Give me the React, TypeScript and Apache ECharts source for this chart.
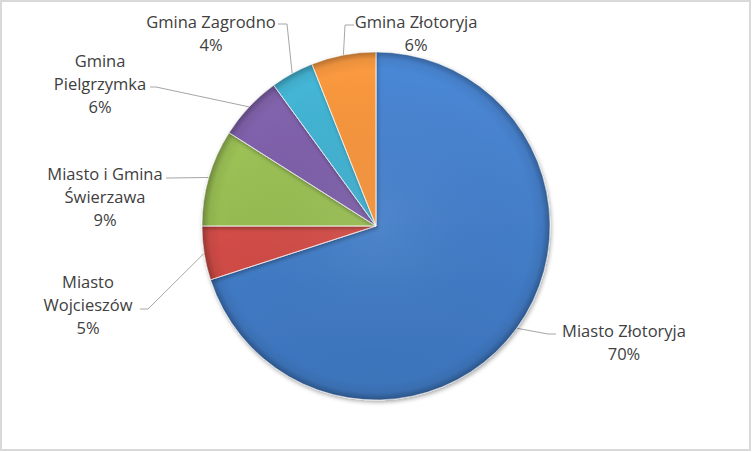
import React, { useEffect, useRef } from 'react';
import * as echarts from 'echarts';

// shares of each commune (percent)
const names = [
  'Miasto Złotoryja',
  'Miasto Wojcieszów',
  'Miasto i Gmina Świerzawa',
  'Gmina Pielgrzymka',
  'Gmina Zagrodno',
  'Gmina Złotoryja',
];
const labelNames = [
  'Miasto Złotoryja',
  'Miasto\nWojcieszów',
  'Miasto i Gmina\nŚwierzawa',
  'Gmina\nPielgrzymka',
  'Gmina Zagrodno',
  'Gmina Złotoryja',
];
const values = [70, 5, 9, 6, 4, 6];
const topColors = ['#4b88d6', '#e0554f', '#a2c85a', '#8566b0', '#45b8d8', '#fa9a40'];
const bottomColors = ['#3c73ba', '#c4453f', '#8aae48', '#6e529a', '#3aa0bf', '#e88530'];

// where each label sits and the bend of its leader line
const labelPos: { x: number; y: number; line: number[][] }[] = [
  { x: 624, y: 342, line: [[548, 334], [556, 334]] },
  { x: 88, y: 304, line: [[148, 309], [140, 309]] },
  { x: 105, y: 196, line: [[170, 178], [166, 178]] },
  { x: 100, y: 83, line: [[156, 87], [150, 87]] },
  { x: 211, y: 33, line: [[287, 24], [278, 24]] },
  { x: 416, y: 33, line: [[345, 25], [354, 25]] },
];

const CX = 376;
const CY = 226;
const R = 174;

export default function App() {
  const ref = useRef<HTMLDivElement>(null);

  useEffect(() => {
    document.body.style.margin = '0';
    if (!ref.current) return;
    const chart = echarts.init(ref.current, null, { renderer: 'svg' });

    const data = values.map((v, i) => ({
      name: names[i],
      value: v,
      itemStyle: {
        color: {
          type: 'linear',
          x: 0,
          y: CY - R,
          x2: 0,
          y2: CY + R,
          global: true,
          colorStops: [
            { offset: 0, color: topColors[i] },
            { offset: 1, color: bottomColors[i] },
          ],
        },
      },
    }));

    // transparent overlay darkening the rim
    const rim = values.map((v, i) => ({ name: names[i], value: v }));

    chart.setOption({
      animation: false,
      backgroundColor: '#ffffff',
      graphic: [
        {
          type: 'rect',
          shape: { x: 1, y: 1, width: 749, height: 449 },
          style: { fill: 'none', stroke: '#d9d9d9', lineWidth: 2 },
          silent: true,
        },
      ],
      series: [
        {
          type: 'pie',
          center: [CX, CY],
          radius: R,
          startAngle: 90,
          clockwise: true,
          percentPrecision: 0,
          data,
          itemStyle: {
            borderColor: 'rgba(255,255,255,0.4)',
            borderWidth: 1,
            shadowBlur: 4,
            shadowOffsetX: 1,
            shadowOffsetY: 2,
            shadowColor: 'rgba(0,0,0,0.35)',
          },
          label: {
            show: true,
            formatter: (p: any) => labelNames[p.dataIndex] + '\n' + p.percent + '%',
            fontFamily: 'Open Sans',
            fontSize: 16.5,
            lineHeight: 23,
            color: '#404040',
            align: 'center',
          },
          labelLine: {
            show: true,
            lineStyle: { color: '#a6a6a6', width: 1 },
          },
          labelLayout: (params: any) => {
            const i = params.dataIndex;
            const pos = labelPos[i];
            const start = params.labelLinePoints ? params.labelLinePoints[0] : [CX, CY];
            return {
              x: pos.x,
              y: pos.y,
              align: 'center',
              verticalAlign: 'middle',
              labelLinePoints: [start, pos.line[0], pos.line[1]],
            };
          },
        },
        {
          type: 'pie',
          center: [CX, CY],
          radius: R,
          startAngle: 90,
          clockwise: true,
          silent: true,
          data: rim,
          label: { show: false },
          labelLine: { show: false },
          itemStyle: {
            color: {
              type: 'radial',
              x: CX,
              y: CY,
              r: R,
              global: true,
              colorStops: [
                { offset: 0, color: 'rgba(255,255,255,0.06)' },
                { offset: 0.9, color: 'rgba(0,0,0,0)' },
                { offset: 0.96, color: 'rgba(0,0,0,0.06)' },
                { offset: 1, color: 'rgba(0,0,0,0.28)' },
              ],
            },
            borderColor: 'rgba(255,255,255,0.35)',
            borderWidth: 1,
          },
        },
      ],
    });

    return () => chart.dispose();
  }, []);

  return <div ref={ref} style={{ width: 752, height: 452 }} />;
}
